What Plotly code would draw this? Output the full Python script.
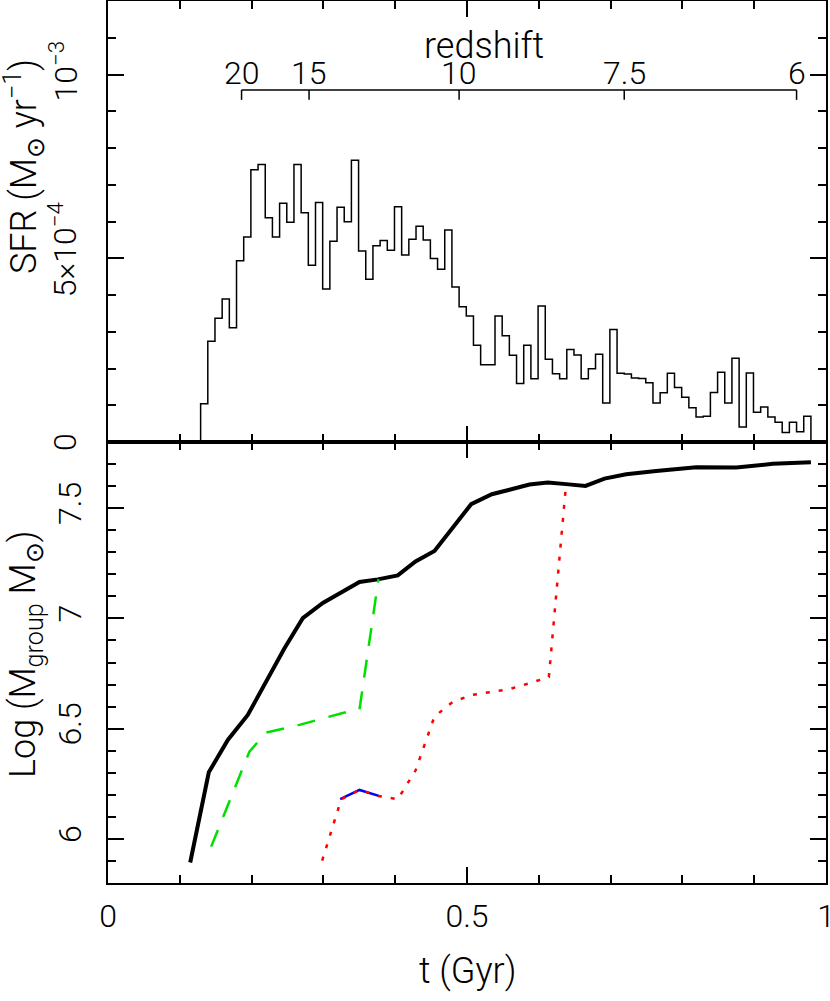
import plotly.graph_objects as go

# ---------------- data ----------------
# SFR histogram: bins of 0.01 Gyr starting at t = 0.129 Gyr, values in units of 1e-4 Msun/yr
bin_start = 0.129
bin_width = 0.01
sfr_1e4 = [1.04, 2.74, 3.37, 3.89, 3.11, 4.93, 5.58, 7.41, 7.55, 6.10,
           5.58, 6.50, 5.98, 7.55, 6.24, 4.81, 6.52, 4.16, 5.46, 6.39,
           5.99, 7.67, 5.20, 4.43, 5.34, 5.48, 5.22, 6.40, 5.09, 5.52,
           5.87, 5.50, 4.99, 4.70, 5.77, 4.22, 3.68, 3.43, 2.63, 2.10,
           2.10, 3.43, 2.89, 2.36, 1.59, 2.63, 1.72, 3.70, 2.25, 1.86,
           1.72, 2.52, 2.37, 1.72, 1.99, 2.39, 1.06, 3.06, 1.87, 1.85,
           1.74, 1.73, 1.61, 1.06, 1.34, 1.87, 1.48, 1.22, 0.93, 0.68,
           0.70, 1.35, 1.90, 1.06, 2.28, 0.41, 1.88, 0.81, 0.95, 0.68,
           0.54, 0.26, 0.54, 0.28, 0.70]

# main group mass growth (black solid)
t_main = [0.1145, 0.1404, 0.1669, 0.1947, 0.2458, 0.2713, 0.2992, 0.3503,
          0.3758, 0.4036, 0.4283, 0.4547, 0.5058, 0.5346, 0.587, 0.6126,
          0.638, 0.665, 0.6915, 0.7217, 0.7635, 0.8192, 0.875, 0.926, 0.979]
logm_main = [5.893, 6.302, 6.449, 6.562, 6.865, 7.001, 7.070, 7.165,
             7.177, 7.195, 7.258, 7.306, 7.518, 7.563, 7.607, 7.616,
             7.609, 7.601, 7.634, 7.654, 7.669, 7.686, 7.684, 7.701, 7.708]

# merging group (green dashed)
t_green = [0.1437, 0.197, 0.2203, 0.2667, 0.3256, 0.3503, 0.3767]
logm_green = [5.965, 6.396, 6.482, 6.517, 6.570, 6.588, 7.178]

# merging group (red dotted)
t_red = [0.2983, 0.3248, 0.3503, 0.3758, 0.4036, 0.4283, 0.4547, 0.48,
         0.5058, 0.5346, 0.56, 0.587, 0.614, 0.638]
logm_red = [5.902, 6.180, 6.222, 6.195, 6.180, 6.310, 6.555, 6.621,
            6.652, 6.667, 6.680, 6.706, 6.734, 7.609]

# small group (blue solid)
t_blue = [0.3234, 0.3503, 0.3772]
logm_blue = [6.180, 6.222, 6.195]

# redshift axis
redshift_labels = ["20", "15", "10", "7.5", "6"]
redshift_t = [0.186, 0.280, 0.489, 0.719, 0.959]

# SFR tick labels
sfr_tickvals = [0, 5e-4, 1e-3]
sfr_ticktext = ["0", "5×10<sup>−4</sup>", "10<sup>−3</sup>"]

# ---------------- build ----------------
FONT = "Roboto"
WEIGHT = 300
TICKSIZE = 32
TITLESIZE = 36

def font(size):
    return dict(family=FONT, size=size, color="black", weight=WEIGHT)

n = len(sfr_1e4)
edges = [round(bin_start + bin_width * i, 4) for i in range(n + 1)]
hx = [edges[0]] + edges
hy = [0.0] + [v * 1e-4 for v in sfr_1e4] + [0.0]

fig = go.Figure()
fig.add_trace(go.Scatter(x=hx, y=hy, mode="lines", line=dict(shape="hv", color="black", width=1.5),
                         xaxis="x2", yaxis="y2", showlegend=False, hoverinfo="skip"))
fig.add_trace(go.Scatter(x=t_main, y=logm_main, mode="lines",
                         line=dict(color="black", width=4), showlegend=False))
fig.add_trace(go.Scatter(x=t_green, y=logm_green, mode="lines",
                         line=dict(color="#00e000", width=2.5, dash="18px,14px"), showlegend=False))
fig.add_trace(go.Scatter(x=t_blue, y=logm_blue, mode="lines",
                         line=dict(color="#0000ff", width=2.5), showlegend=False))
fig.add_trace(go.Scatter(x=t_red, y=logm_red, mode="lines",
                         line=dict(color="#ff0000", width=2.5, dash="4px,9px"), showlegend=False))

common_x = dict(range=[0, 1], showline=True, linecolor="black", linewidth=1.5, mirror="ticks",
                ticks="inside", ticklen=16, tickwidth=1.5, tickcolor="black",
                tickvals=[0, 0.5, 1], ticktext=["0", "0.5", "1"],
                minor=dict(ticks="inside", ticklen=8, tickwidth=1.5, tickcolor="black", dtick=0.1, tick0=0),
                showgrid=False, zeroline=False, automargin=False, ticklabeloverflow="allow",
                tickfont=font(TICKSIZE))
common_y = dict(showline=True, linecolor="black", linewidth=1.5, mirror="ticks",
                ticks="inside", ticklen=16, tickwidth=1.5, tickcolor="black",
                showgrid=False, zeroline=False, tickangle=-90, automargin=False,
                tickfont=font(TICKSIZE))

fig.update_layout(
    width=830, height=1001,
    margin=dict(l=108, r=4, t=1, b=118, autoexpand=False),
    paper_bgcolor="white", plot_bgcolor="white",
    xaxis=dict(common_x, anchor="y", ticklabelstandoff=4),
    xaxis2=dict(common_x, anchor="y2", matches="x", showticklabels=False),
    yaxis=dict(common_y, domain=[0, 0.5], range=[5.8, 7.8], anchor="x",
               tickvals=[6, 6.5, 7, 7.5], ticktext=["6", "6.5", "7", "7.5"],
               minor=dict(ticks="inside", ticklen=8, tickwidth=1.5, tickcolor="black", dtick=0.1, tick0=0),
               ticklabelstandoff=12),
    yaxis2=dict(common_y, domain=[0.5, 1], range=[0, 1.2e-3], anchor="x2",
                tickvals=sfr_tickvals, showticklabels=False,
                minor=dict(ticks="inside", ticklen=8, tickwidth=1.5, tickcolor="black", dtick=1e-4, tick0=0)),
)

# SFR tick labels as rotated annotations (placed at the tick values)
sfr_label_shift = [0, 9, 3]
for v, txt, ys in zip(sfr_tickvals, sfr_ticktext, sfr_label_shift):
    fig.add_annotation(xref="paper", yref="y2", x=0, y=v, xshift=-22, yshift=ys,
                       text=txt, textangle=-90, showarrow=False,
                       xanchor="right", yanchor="middle", font=font(TICKSIZE))

# redshift axis (drawn in data coordinates of the top panel)
z_axis_y = 0.958e-3
z_tick_y = 0.931e-3
fig.add_shape(type="line", xref="x2", yref="y2", x0=redshift_t[0], x1=redshift_t[-1],
              y0=z_axis_y, y1=z_axis_y, line=dict(color="black", width=1.5))
for t, lab in zip(redshift_t, redshift_labels):
    fig.add_shape(type="line", xref="x2", yref="y2", x0=t, x1=t, y0=z_axis_y, y1=z_tick_y,
                  line=dict(color="black", width=1.5))
    fig.add_annotation(x=t, y=z_axis_y, xref="x2", yref="y2", text=lab, showarrow=False,
                       yanchor="bottom", yshift=-4, font=font(TICKSIZE))
fig.add_annotation(x=0.523, y=1.078e-3, xref="x2", yref="y2", text="redshift", showarrow=False,
                   yanchor="middle", font=font(TITLESIZE))

# axis titles
fig.add_annotation(xref="paper", yref="paper", x=0, xshift=-84, y=(883 - 167) / 882,
                   text="SFR (M<sub>⊙</sub> yr<sup>−1</sup>)", textangle=-90, showarrow=False,
                   xanchor="center", yanchor="middle", font=font(TITLESIZE))
fig.add_annotation(xref="paper", yref="paper", x=0, xshift=-82, y=(883 - 655) / 882,
                   text="Log (M<sub>group</sub> M<sub>⊙</sub>)", textangle=-90, showarrow=False,
                   xanchor="center", yanchor="middle", font=font(TITLESIZE))
fig.add_annotation(xref="paper", yref="paper", x=0.5, y=0, yshift=-88,
                   text="t (Gyr)", showarrow=False,
                   xanchor="center", yanchor="middle", font=font(TITLESIZE))

fig.write_html("out.html", config={"displayModeBar": False},
               post_script="document.body.style.margin='0px';")
